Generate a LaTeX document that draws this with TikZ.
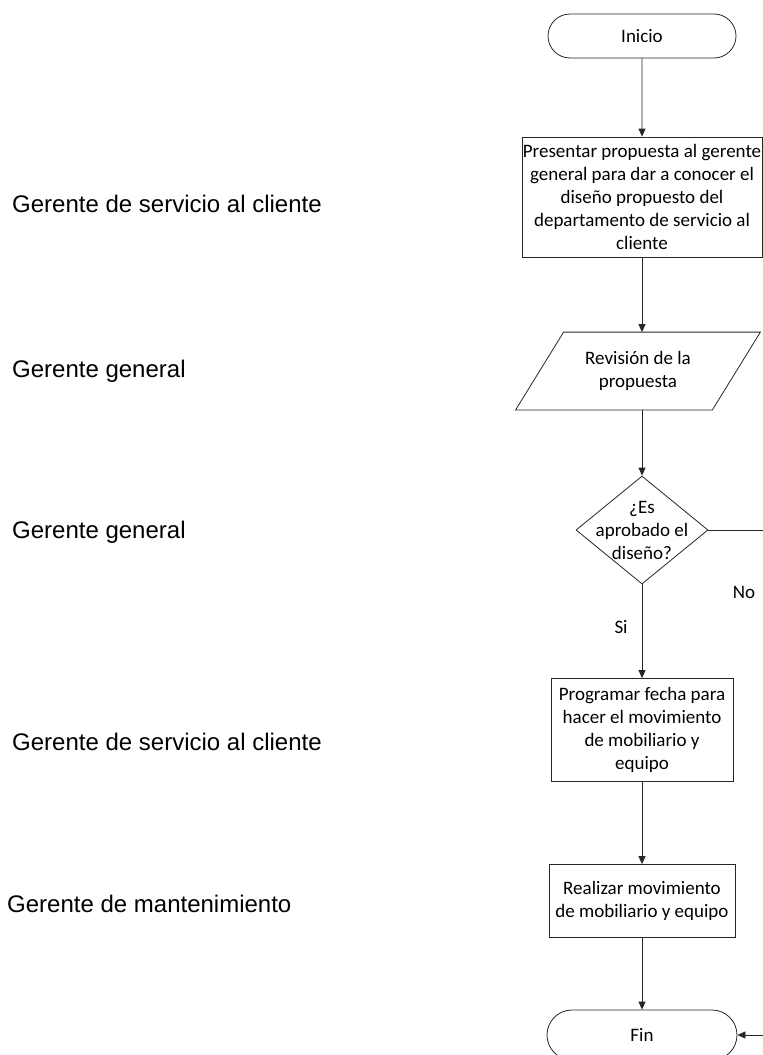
\documentclass[tikz,border=0pt]{standalone}
\usepackage{fontspec}
\setmainfont{Carlito}
\newfontfamily\rolfont{Liberation Sans}
\usetikzlibrary{arrows.meta,positioning,shapes.geometric,shapes.misc}
\tikzset{
  borde/.style={draw=black!85, line width=0.8pt},
  proceso/.style={
    borde, fill=white,
    align=center, inner sep=0pt,
    font=\fontsize{19}{23}\selectfont
  },
  terminal/.style={proceso, rounded rectangle, minimum width=188pt, minimum height=44pt},
  caja/.style={proceso, rectangle},
  datos/.style={proceso, draw=none, fill=none, minimum width=196pt, minimum height=77pt},
  decision/.style={proceso, diamond, minimum width=132pt, minimum height=108pt},
  rol/.style={font=\rolfont\fontsize{24}{29}\selectfont, anchor=base west, inner sep=0pt},
  etq/.style={font=\fontsize{19}{23}\selectfont, inner sep=0pt},
  flecha/.style={-{Triangle[length=8pt,width=7pt]}, draw=black!85, line width=0.8pt}
}

\begin{document}
\begin{tikzpicture}[x=1pt, y=-1pt]
  \useasboundingbox (0,0) rectangle (763,1055);

  % responsables
  \node[rol] (r1) at (12,212) {Gerente de servicio al cliente};
  \node[rol] (r2) at (12,377) {Gerente general};
  \node[rol] (r3) at (12,538) {Gerente general};
  \node[rol] (r4) at (12,750) {Gerente de servicio al cliente};
  \node[rol] (r5) at (7,912) {Gerente de mantenimiento};

  % diagrama
  \node[terminal] (inicio) at (642,36) {Inicio};
  \node[caja, minimum width=240pt, minimum height=120pt] (presentar) at (642,197)
    {Presentar propuesta al gerente\\general para dar a conocer el\\dise\~no propuesto del\\departamento de servicio al\\cliente};
  \node[datos] (revision) at (638,371) {Revisi\'on de la\\propuesta};
  \draw[borde] ([xshift=-24pt]revision.south west) -- ([xshift=24pt]revision.north west)
    -- ([xshift=24pt]revision.north east) -- ([xshift=-24pt]revision.south east) -- cycle;
  \node[decision] (aprobado) at (642,530) {};
  \node[etq, align=center] (aprobadotxt) at (aprobado) {¿Es\\aprobado el\\dise\~no?};
  \node[caja, minimum width=182pt, minimum height=103pt] (programar) at (642,730)
    {Programar fecha para\\hacer el movimiento\\de mobiliario y\\equipo};
  \node[caja, minimum width=186pt, minimum height=73pt] (realizar) at (642,901)
    {Realizar movimiento\\de mobiliario y equipo};
  \node[terminal, minimum width=190pt, minimum height=50pt] (fin) at (642,1035) {Fin};
  \coordinate (derecha) at (775,530);

  \draw[flecha] (inicio) -- (presentar);
  \draw[flecha] (presentar) -- (revision.north -| presentar);
  \draw[flecha] (revision.south -| aprobado) -- (aprobado);
  \draw[flecha] (aprobado) -- node[etq, pos=0.45, left=14pt] (si) {Si} (programar);
  \draw[flecha] (programar) -- (realizar);
  \draw[flecha] (realizar) -- (fin);
  \draw[flecha] (aprobado.east) -- (derecha) |- (fin.east);
  \node[etq] (no) at (744,592) {No};
\end{tikzpicture}
\end{document}
